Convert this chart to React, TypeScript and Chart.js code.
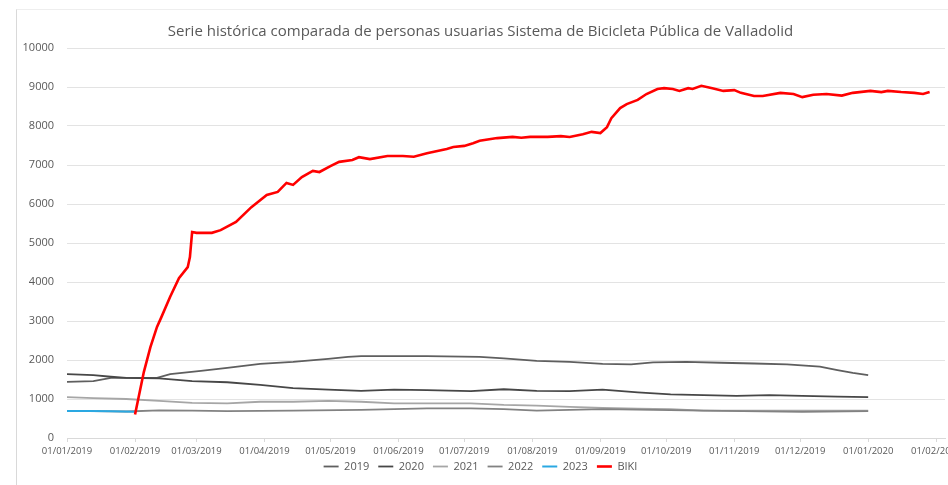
import React, { useEffect, useRef } from "react";
import { Chart, registerables } from "chart.js";

Chart.register(...registerables);

const chartTitle =
  "Serie histórica comparada de personas usuarias Sistema de Bicicleta Pública de Valladolid";

// x axis: day offset from 01/01/2019
const tickDays = [0, 31, 59, 90, 120, 151, 181, 212, 243, 273, 304, 334, 365, 396];
const tickLabels = [
  "01/01/2019", "01/02/2019", "01/03/2019", "01/04/2019", "01/05/2019", "01/06/2019",
  "01/07/2019", "01/08/2019", "01/09/2019", "01/10/2019", "01/11/2019", "01/12/2019",
  "01/01/2020", "01/02/2020",
];

const seriesNames = ["2019", "2020", "2021", "2022", "2023", "BIKI"];

const days2019 = [0, 12, 20, 27, 41, 47, 61, 73, 88, 103, 119, 128, 134, 149, 164, 188, 199, 214, 229, 244, 257, 267, 282, 298, 313, 328, 343, 351, 358, 365];
const users2019 = [1440, 1460, 1540, 1540, 1540, 1640, 1720, 1800, 1900, 1950, 2030, 2080, 2100, 2100, 2100, 2080, 2040, 1980, 1950, 1900, 1890, 1940, 1950, 1930, 1910, 1890, 1830, 1740, 1670, 1610];

const days2020 = [0, 12, 20, 27, 42, 57, 73, 88, 103, 119, 134, 149, 164, 184, 199, 214, 229, 244, 260, 275, 290, 305, 320, 335, 351, 365];
const users2020 = [1640, 1610, 1570, 1540, 1530, 1460, 1430, 1360, 1280, 1240, 1210, 1240, 1230, 1200, 1250, 1210, 1200, 1240, 1170, 1120, 1100, 1080, 1100, 1080, 1060, 1050];

const days2021 = [0, 12, 27, 42, 57, 73, 88, 103, 119, 134, 149, 164, 184, 199, 214, 229, 244, 260, 275, 290, 305, 335, 365];
const users2021 = [1050, 1020, 1000, 950, 900, 890, 930, 930, 950, 930, 890, 890, 890, 850, 830, 800, 770, 750, 740, 700, 700, 700, 700];

const days2022 = [0, 12, 27, 42, 57, 73, 103, 134, 149, 164, 184, 199, 214, 244, 290, 335, 365];
const users2022 = [690, 690, 680, 710, 700, 690, 700, 720, 740, 760, 760, 740, 700, 740, 700, 670, 690];

const days2023 = [0, 10, 20, 31];
const users2023 = [690, 690, 685, 675];

const daysBiki = [31, 35, 38, 41, 43, 47, 51, 55, 56, 57, 59, 66, 70, 77, 84, 91, 96, 100, 103, 107, 112, 115, 120, 124, 130, 133, 138, 146, 153, 158, 164, 173, 176, 181, 185, 188, 196, 203, 207, 211, 219, 225, 229, 235, 239, 243, 246, 248, 252, 255, 260, 264, 269, 272, 276, 279, 283, 285, 289, 294, 299, 304, 307, 313, 317, 325, 331, 335, 340, 346, 353, 358, 366, 371, 374, 380, 386, 390, 393];
const usersBiki = [600, 1690, 2330, 2850, 3100, 3620, 4100, 4380, 4640, 5280, 5260, 5260, 5330, 5540, 5920, 6230, 6310, 6540, 6490, 6690, 6850, 6820, 6970, 7080, 7130, 7200, 7150, 7230, 7230, 7210, 7300, 7410, 7460, 7490, 7560, 7620, 7690, 7720, 7700, 7720, 7720, 7740, 7720, 7790, 7850, 7820, 7970, 8200, 8460, 8560, 8670, 8820, 8950, 8970, 8950, 8900, 8970, 8950, 9030, 8970, 8900, 8920, 8850, 8770, 8770, 8850, 8820, 8740, 8800, 8820, 8780, 8850, 8900, 8870, 8900, 8870, 8850, 8820, 8870];

const seriesDays = [days2019, days2020, days2021, days2022, days2023, daysBiki];
const seriesUsers = [users2019, users2020, users2021, users2022, users2023, usersBiki];
const seriesColors = ["#5f5f5f", "#474747", "#a6a6a6", "#828282", "#2aa8e2", "#ff0000"];
const seriesWidths = [1.8, 1.8, 1.8, 1.8, 2, 2.6];
const seriesOrder = [5, 4, 3, 2, 1, 0];

const FONT = "'Open Sans', 'DejaVu Sans', sans-serif";
const TEXT = "#595959";

const legendShift = {
  id: "legendShift",
  afterLayout(chart: any) {
    const l = chart.legend;
    if (l) {
      l.top -= 7;
      l.bottom -= 7;
    }
  },
};

export default function App() {
  const canvasRef = useRef<HTMLCanvasElement | null>(null);

  useEffect(() => {
    if (!canvasRef.current) return;
    const datasets = seriesNames.map((name, i) => ({
      label: name,
      data: seriesDays[i].map((d, j) => ({ x: d, y: seriesUsers[i][j] })),
      borderColor: seriesColors[i],
      backgroundColor: seriesColors[i],
      borderWidth: seriesWidths[i],
      pointRadius: 0,
      tension: 0,
      fill: false,
      order: seriesOrder[i],
    }));

    const chart = new Chart(canvasRef.current, {
      type: "line",
      data: { datasets },
      plugins: [legendShift],
      options: {
        animation: false,
        responsive: false,
        devicePixelRatio: 1,
        layout: { padding: { left: 16, right: 38, top: 0, bottom: 6 } },
        plugins: {
          tooltip: { enabled: false },
          title: {
            display: true,
            text: chartTitle,
            color: TEXT,
            font: { family: FONT, size: 15, weight: "normal" },
            padding: { top: 23, bottom: 7 },
          },
          legend: {
            position: "bottom",
            labels: {
              color: TEXT,
              font: { family: FONT, size: 11 },
              usePointStyle: true,
              pointStyle: "line",
              pointStyleWidth: 15,
              boxWidth: 15,
              padding: 9,
              sort: (a: any, b: any) => a.datasetIndex - b.datasetIndex,
            },
          },
        },
        scales: {
          x: {
            type: "linear",
            min: 0,
            max: 400,
            afterBuildTicks: (scale: any) => {
              scale.ticks = tickDays.map((v) => ({ value: v }));
            },
            afterFit: (scale: any) => {
              scale.height = 21;
            },
            ticks: {
              autoSkip: false,
              maxRotation: 0,
              minRotation: 0,
              padding: 4,
              color: TEXT,
              font: { family: FONT, size: 9.5 },
              callback: (value: any) => {
                const idx = tickDays.indexOf(Number(value));
                return idx >= 0 ? tickLabels[idx] : "";
              },
            },
            grid: {
              display: true,
              drawOnChartArea: false,
              drawTicks: true,
              tickLength: 4,
              color: "#d9d9d9",
            },
            border: { display: true, color: "#d9d9d9" },
          },
          y: {
            min: 0,
            max: 10000,
            afterFit: (scale: any) => {
              scale.width = 51;
            },
            ticks: {
              stepSize: 1000,
              padding: 13,
              color: TEXT,
              font: { family: FONT, size: 11 },
              callback: (value: any) => String(value),
            },
            grid: { color: "#e3e3e3", drawTicks: false },
            border: { display: false },
          },
        },
      },
    });
    return () => chart.destroy();
  }, []);

  return (
    <div
      style={{
        position: "absolute",
        left: 0,
        top: 0,
        width: 948,
        height: 485,
        overflow: "hidden",
        background: "#ffffff",
      }}
    >
      <div
        style={{
          position: "absolute",
          left: 16,
          top: 9,
          width: 960,
          height: 500,
          borderLeft: "1px solid #d9d9d9",
          borderTop: "1px solid #eeeeee",
        }}
      />
      <canvas
        ref={canvasRef}
        width={983}
        height={495}
        style={{ position: "absolute", left: 0, top: 0, width: 983, height: 495 }}
      />
    </div>
  );
}
